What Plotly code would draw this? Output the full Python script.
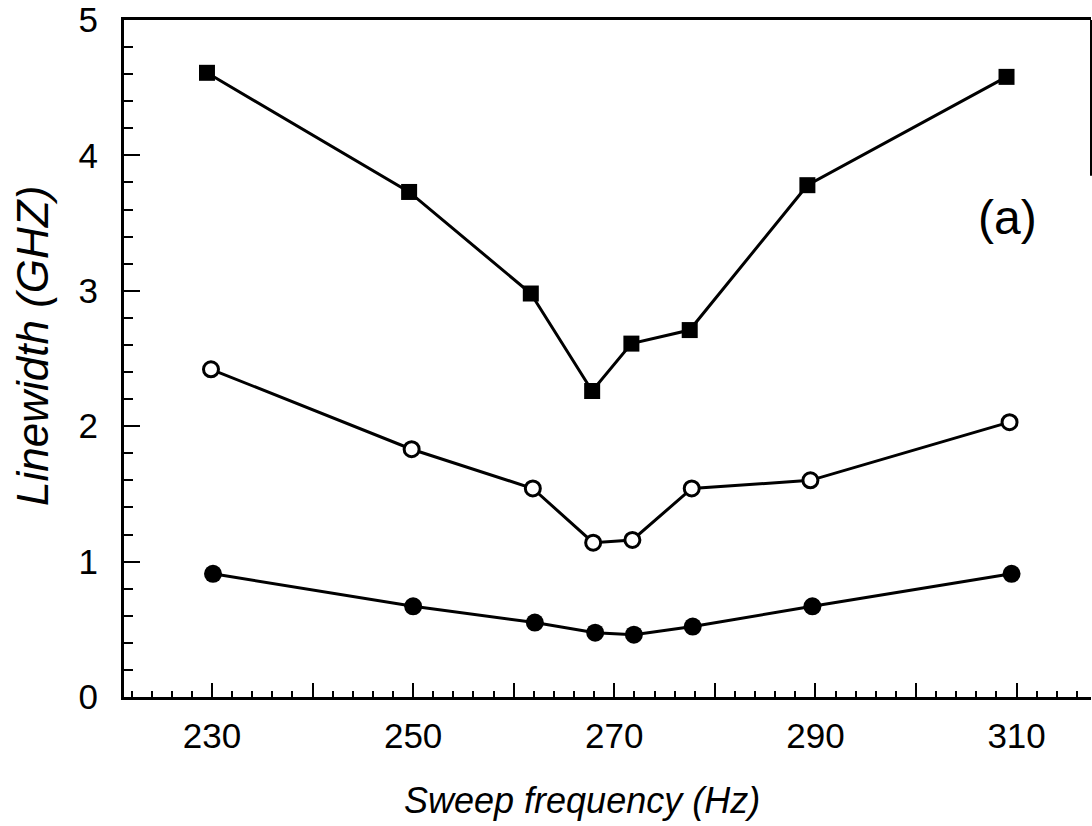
import plotly.graph_objects as go

# Data
freq_sq = [229.5, 249.6, 261.7, 267.8, 271.7, 277.5, 289.2, 309.0]
lw_sq = [4.61, 3.73, 2.98, 2.26, 2.61, 2.71, 3.78, 4.58]

freq_open = [229.9, 249.85, 261.9, 267.9, 271.8, 277.7, 289.5, 309.3]
lw_open = [2.42, 1.83, 1.54, 1.14, 1.16, 1.54, 1.60, 2.03]

freq_fill = [230.1, 250.0, 262.1, 268.1, 271.95, 277.8, 289.7, 309.5]
lw_fill = [0.91, 0.67, 0.55, 0.475, 0.46, 0.52, 0.67, 0.91]

x_tick_vals = [230, 240, 250, 260, 270, 280, 290, 300, 310]
x_tick_text = ["230", "", "250", "", "270", "", "290", "", "310"]
y_tick_vals = [0, 1, 2, 3, 4, 5]

FONT = "Liberation Sans, Arial, sans-serif"

fig = go.Figure()
fig.add_trace(go.Scatter(x=freq_sq, y=lw_sq, mode="lines+markers",
                         line=dict(color="black", width=3),
                         marker=dict(symbol="square", size=16, color="black"),
                         showlegend=False))
fig.add_trace(go.Scatter(x=freq_open, y=lw_open, mode="lines+markers",
                         line=dict(color="black", width=3),
                         marker=dict(symbol="circle", size=15, color="white",
                                     line=dict(color="black", width=3)),
                         showlegend=False))
fig.add_trace(go.Scatter(x=freq_fill, y=lw_fill, mode="lines+markers",
                         line=dict(color="black", width=3),
                         marker=dict(symbol="circle", size=18, color="black"),
                         showlegend=False))

fig.update_layout(
    width=1092, height=826,
    margin=dict(l=124, r=1, t=20, b=129),
    paper_bgcolor="white", plot_bgcolor="white",
    font=dict(family=FONT, color="black", size=35),
    xaxis=dict(range=[221.25, 317.4], tickvals=x_tick_vals, ticktext=x_tick_text,
               ticks="inside", ticklen=14, tickwidth=2, tickcolor="black",
               minor=dict(dtick=2, tick0=230, ticks="inside", ticklen=6,
                          tickwidth=2, tickcolor="black", showgrid=False),
               showline=True, linewidth=3, linecolor="black", mirror=True,
               showgrid=False, zeroline=False,
               tickfont=dict(size=35), ticklabelstandoff=6),
    yaxis=dict(range=[0, 5], tickvals=y_tick_vals, ticks="inside",
               ticklen=16, tickwidth=2, tickcolor="black",
               minor=dict(dtick=0.2, tick0=0, ticks="inside", ticklen=9,
                          tickwidth=2, tickcolor="black", showgrid=False),
               showline=True, linewidth=3, linecolor="black",
               showgrid=False, zeroline=False,
               tickfont=dict(size=35), ticklabelstandoff=16),
    annotations=[
        dict(x=0.914, y=0.709, xref="paper", yref="paper",
             text="(a)", showarrow=False, font=dict(size=48, family=FONT),
             xanchor="center", yanchor="middle"),
        dict(x=(582 - 124) / 967, y=-(800 - 697) / 677, xref="paper", yref="paper",
             text="<i>Sweep frequency (Hz)</i>", showarrow=False,
             font=dict(size=36, family=FONT), xanchor="center", yanchor="middle"),
        dict(x=-(124 - 32) / 967, y=(697 - 346) / 677, xref="paper", yref="paper",
             text="<i>Linewidth (GHZ)</i>", showarrow=False, textangle=-90,
             font=dict(size=44, family=FONT), xanchor="center", yanchor="middle"),
    ],
    shapes=[dict(type="line", xref="paper", yref="y", x0=1, x1=1,
                 y0=3.85, y1=5, line=dict(color="black", width=2))],
)

fig.write_html("out.html")
